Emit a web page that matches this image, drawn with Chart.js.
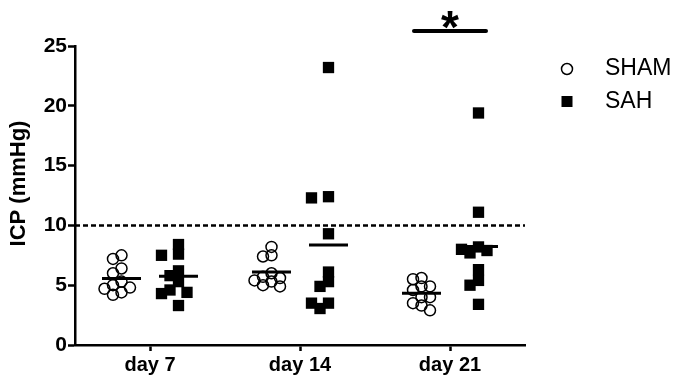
<!DOCTYPE html>
<html>
<head>
<meta charset="utf-8">
<script src="https://cdn.jsdelivr.net/npm/chart.js@4.4.0/dist/chart.umd.min.js"></script>
<style>
  html, body { margin: 0; padding: 0; background: #fff; }
</style>
</head>
<body>
<canvas id="chart" width="679" height="387"></canvas>
<script>
// data (mmHg)
const days = ['day 7', 'day 14', 'day 21'];
const shamValues = [
    [7.5, 7.2, 6.4, 6.0, 5.3, 5.0, 4.8, 4.7, 4.4, 4.2],
    [8.2, 7.5, 7.4, 6.0, 5.7, 5.6, 5.4, 5.3, 5.0, 4.9],
    [5.6, 5.5, 4.9, 4.9, 4.6, 4.0, 4.0, 3.5, 3.3, 2.9]
];
const sahValues = [
    [8.4, 7.6, 7.5, 6.2, 5.8, 5.3, 4.6, 4.4, 4.3, 3.3],
    [23.2, 12.4, 12.3, 9.3, 6.1, 5.3, 4.9, 3.5, 3.5, 3.05],
    [19.4, 11.1, 8.2, 8.0, 7.9, 7.7, 6.3, 5.4, 5.0, 3.4]
];
const threshold = 10;
const yTicks = [0, 5, 10, 15, 20, 25];
const sigDay = 2; // asterisk over day 21

const FONT = 'Liberation Sans, Arial, sans-serif';
const PX_X = 150, PX_Y = 299 / 25; // approx pixels per unit, for the swarm spacing

// simple beeswarm so overlapping points spread sideways
function swarm(vals, center, minD) {
    const placed = [];
    const step = 8.5;
    vals.slice().sort((a, b) => b - a).forEach(v => {
        for (let k = 0; k < 30; k++) {
            const off = (k % 2 ? -1 : 1) * Math.ceil(k / 2) * step;
            const ok = placed.every(p => Math.hypot(p.off - off, (p.v - v) * PX_Y) >= minD);
            if (ok) { placed.push({ off, v }); break; }
        }
    });
    return placed.map(p => ({ x: center + p.off / PX_X, y: p.v }));
}

const mean = a => a.reduce((s, v) => s + v, 0) / a.length;

const shamPts = [], sahPts = [];
days.forEach((d, i) => {
    shamPts.push(...swarm(shamValues[i], i + 0.5 - 0.19, 8));
    sahPts.push(...swarm(sahValues[i], i + 0.5 + 0.19, 9));
});

const meanSets = [];
[shamValues, sahValues].forEach((grp, g) => {
    grp.forEach((vals, i) => {
        const c = i + 0.5 + (g ? 0.19 : -0.19);
        const m = mean(vals);
        meanSets.push({
            data: [{ x: c - 0.13, y: m }, { x: c + 0.13, y: m }],
            showLine: true, borderColor: '#000', borderWidth: 3,
            pointRadius: 0, order: 0
        });
    });
});

const extras = {
    id: 'extras',
    afterDraw(chart) {
        const ctx = chart.ctx, xs = chart.scales.x, area = chart.chartArea;
        ctx.save();
        // significance bar + asterisk
        const cx = xs.getPixelForValue(sigDay + 0.5);
        const half = 0.24 * (xs.getPixelForValue(1) - xs.getPixelForValue(0));
        const by = area.top - 15;
        ctx.strokeStyle = '#000';
        ctx.lineWidth = 4;
        ctx.lineCap = 'round';
        ctx.beginPath();
        ctx.moveTo(cx - half, by);
        ctx.lineTo(cx + half, by);
        ctx.stroke();
        ctx.fillStyle = '#000';
        ctx.font = 'bold 46px ' + FONT;
        ctx.textAlign = 'center';
        ctx.textBaseline = 'alphabetic';
        ctx.fillText('*', cx, by + 12);

        // y title (sits a little above the axis centre, as in the figure)
        ctx.save();
        ctx.translate(19, (area.top + area.bottom) / 2 - 12);
        ctx.rotate(-Math.PI / 2);
        ctx.font = 'bold 22px ' + FONT;
        ctx.textBaseline = 'middle';
        ctx.fillText('ICP (mmHg)', 0, 0);
        ctx.restore();

        // legend
        const lx = area.right + 42;
        ctx.lineWidth = 1.5;
        ctx.beginPath();
        ctx.arc(lx, 69, 5.5, 0, Math.PI * 2);
        ctx.stroke();
        ctx.fillRect(lx - 5.5, 96, 11, 11);
        ctx.font = '23px ' + FONT;
        ctx.textAlign = 'left';
        ctx.textBaseline = 'middle';
        ctx.fillText('SHAM', lx + 38, 69);
        ctx.fillText('SAH', lx + 38, 102);
        ctx.restore();
    }
};

new Chart(document.getElementById('chart').getContext('2d'), {
    type: 'scatter',
    data: {
        datasets: [
            {
                label: 'SHAM', data: shamPts, order: 1,
                pointStyle: 'circle', pointRadius: 5.5, borderWidth: 1.5,
                borderColor: '#000', backgroundColor: 'rgba(0,0,0,0)'
            },
            {
                label: 'SAH', data: sahPts, order: 1,
                pointStyle: 'rect', pointRadius: 8, borderWidth: 0,
                borderColor: '#000', backgroundColor: '#000'
            },
            {
                data: [{ x: 0, y: threshold }, { x: 3, y: threshold }],
                showLine: true, borderColor: '#000', borderWidth: 2.5,
                borderDash: [5, 3], pointRadius: 0, order: 2
            },
            ...meanSets
        ]
    },
    options: {
        responsive: false,
        animation: false,
        layout: { padding: { top: 46, right: 154, bottom: 0, left: 0 } },
        plugins: { legend: { display: false }, tooltip: { enabled: false } },
        scales: {
            x: {
                type: 'linear', min: 0, max: 3,
                afterBuildTicks: s => { s.ticks = days.map((d, i) => ({ value: i + 0.5 })); },
                ticks: {
                    callback: v => days[Math.round(v - 0.5)],
                    color: '#000', font: { family: FONT, size: 20, weight: 'bold' },
                    padding: 2, maxRotation: 0, autoSkip: false
                },
                grid: { drawOnChartArea: false, tickLength: 6, tickWidth: 2.5, tickColor: '#000' },
                border: { color: '#000', width: 2.5 },
                afterFit: s => { s.height = 42; }
            },
            y: {
                min: 0, max: 25,
                afterBuildTicks: s => { s.ticks = yTicks.map(v => ({ value: v })); },
                ticks: { color: '#000', font: { family: FONT, size: 21, weight: 'bold' }, padding: 1 },
                grid: { drawOnChartArea: false, tickLength: 7, tickWidth: 2.5, tickColor: '#000' },
                border: { color: '#000', width: 2.5 },
                afterFit: s => { s.width = 75; }
            }
        }
    },
    plugins: [extras]
});
</script>
</body>
</html>
